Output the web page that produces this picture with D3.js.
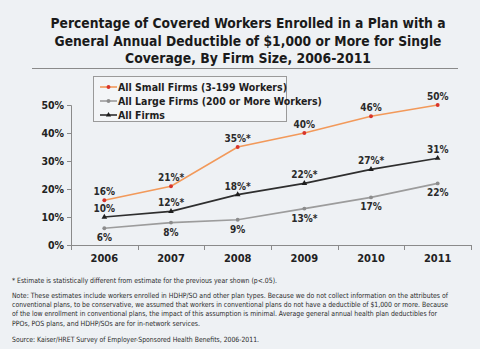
<!DOCTYPE html>
<html>
<head>
<meta charset="utf-8">
<script src="https://cdn.jsdelivr.net/npm/d3@7/dist/d3.min.js"></script>
<style>
  html, body { margin: 0; padding: 0; background: #eef1f4; }
  svg { display: block; }
  text { font-family: "DejaVu Sans Condensed", "DejaVu Sans", sans-serif; }
</style>
</head>
<body>
<svg id="chart" width="480" height="349"></svg>
<script>
const years = ["2006", "2007", "2008", "2009", "2010", "2011"];
const smallFirms = [16, 21, 35, 40, 46, 50];
const largeFirms = [6, 8, 9, 13, 17, 22];
const allFirms = [10, 12, 18, 22, 27, 31];
// significance flags (asterisk after the label)
const smallSig = [false, true, true, false, false, false];
const largeSig = [false, false, false, true, false, false];
const allSig = [false, true, true, true, true, false];
const yTicks = [0, 10, 20, 30, 40, 50];

const titleLines = [
  "Percentage of Covered Workers Enrolled in a Plan with a",
  "General Annual Deductible of $1,000 or More for Single",
  "Coverage, By Firm Size, 2006-2011"
];
const footnotes = [
  "* Estimate is statistically different from estimate for the previous year shown (p<.05).",
];
const noteLines = [
  "Note: These estimates include workers enrolled in HDHP/SO and other plan types.  Because we do not collect information on the attributes of",
  "conventional plans, to be conservative, we assumed that workers in conventional plans do not have a deductible of $1,000 or more.  Because",
  "of the low enrollment in conventional plans, the impact of this assumption is minimal.  Average general annual health plan deductibles for",
  "PPOs, POS plans, and HDHP/SOs are for in-network services."
];
const sourceLine = "Source: Kaiser/HRET Survey of Employer-Sponsored Health Benefits, 2006-2011.";

const svg = d3.select("#chart");

// Title
const titleWidths = [395, 387, 246];
const titleY = [28, 46, 63];
titleLines.forEach((t, i) => {
  svg.append("text")
    .attr("x", 248).attr("y", titleY[i])
    .attr("text-anchor", "middle")
    .attr("font-size", 14).attr("font-weight", "bold")
    .attr("fill", "#1a1a1a")
    .attr("textLength", titleWidths[i])
    .attr("lengthAdjust", "spacingAndGlyphs")
    .text(t);
});
svg.append("line")
  .attr("x1", 32).attr("x2", 458).attr("y1", 68.5).attr("y2", 68.5)
  .attr("stroke", "#8a8a8a").attr("stroke-width", 1);

// Scales
const x = d3.scaleBand().domain(years).range([71, 471]);
const y = d3.scaleLinear().domain([0, 50]).range([245, 105]);
const cx = d => x(d) + x.bandwidth() / 2;

// Y axis
const yAxis = d3.axisLeft(y).tickValues(yTicks).tickFormat(d => d + "%").tickSize(4).tickPadding(3);
const gy = svg.append("g").attr("transform", "translate(71,0)").call(yAxis);
gy.select(".domain").attr("stroke", "#8a8a8a");
gy.selectAll(".tick line").attr("stroke", "#8a8a8a");
gy.selectAll(".tick text").attr("font-size", 10.5).attr("font-weight", "bold").attr("fill", "#222")
  .attr("font-family", "DejaVu Sans Condensed, DejaVu Sans, sans-serif");

// X axis with ticks at band boundaries
const gx = svg.append("g").attr("transform", "translate(0,245)");
gx.append("line").attr("x1", 71).attr("x2", 471).attr("y1", 0.5).attr("y2", 0.5).attr("stroke", "#8a8a8a");
const bounds = years.map(d => x(d)).concat([x.range()[1]]);
gx.selectAll("line.tk").data(bounds).join("line")
  .attr("class", "tk")
  .attr("x1", d => Math.round(d) + 0.5).attr("x2", d => Math.round(d) + 0.5)
  .attr("y1", 0).attr("y2", 5).attr("stroke", "#8a8a8a");
gx.selectAll("text").data(years).join("text")
  .attr("x", d => cx(d)).attr("y", 17)
  .attr("text-anchor", "middle")
  .attr("font-size", 11).attr("font-weight", "bold").attr("fill", "#222")
  .text(d => d);

// Series
const series = [
  { name: "All Small Firms (3-199 Workers)", values: smallFirms, sig: smallSig, line: "#f2995a", dot: "#d8342a", marker: "circle", labelPos: "above" },
  { name: "All Large Firms (200 or More Workers)", values: largeFirms, sig: largeSig, line: "#9c9c9c", dot: "#8c8c8c", marker: "circle", labelPos: "below" },
  { name: "All Firms", values: allFirms, sig: allSig, line: "#2e2e2e", dot: "#1e1e1e", marker: "triangle", labelPos: "above" }
];

const lineGen = d3.line().x((d, i) => cx(years[i])).y(d => y(d));

series.forEach(s => {
  svg.append("path")
    .datum(s.values)
    .attr("d", lineGen)
    .attr("fill", "none")
    .attr("stroke", s.line)
    .attr("stroke-width", 1.6);
  const sym = s.marker === "triangle" ? d3.symbolTriangle : d3.symbolCircle;
  svg.selectAll(null).data(s.values).join("path")
    .attr("d", d3.symbol().type(sym).size(s.marker === "triangle" ? 14 : 12))
    .attr("transform", (d, i) => `translate(${cx(years[i])},${y(d)})`)
    .attr("fill", s.dot);
  svg.selectAll(null).data(s.values).join("text")
    .attr("x", (d, i) => cx(years[i]))
    .attr("y", d => s.labelPos === "above" ? y(d) - 5 : y(d) + 13)
    .attr("text-anchor", "middle")
    .attr("font-size", 10).attr("font-weight", "bold").attr("fill", "#2a2a2a")
    .text((d, i) => d + "%" + (s.sig[i] ? "*" : ""));
});

// Legend
const lg = svg.append("g");
lg.append("rect").attr("x", 93.5).attr("y", 76.5).attr("width", 193).attr("height", 45)
  .attr("fill", "#f3f5f7").attr("stroke", "#9a9a9a").attr("stroke-width", 1);
series.forEach((s, i) => {
  const ly = 87 + i * 14;
  lg.append("line").attr("x1", 100).attr("x2", 117).attr("y1", ly).attr("y2", ly)
    .attr("stroke", s.line).attr("stroke-width", 1.6);
  const sym = s.marker === "triangle" ? d3.symbolTriangle : d3.symbolCircle;
  lg.append("path").attr("d", d3.symbol().type(sym).size(12))
    .attr("transform", `translate(108.5,${ly})`).attr("fill", s.dot);
  lg.append("text").attr("x", 118).attr("y", ly + 4)
    .attr("font-size", 10.5).attr("font-weight", "bold").attr("fill", "#1e1e1e")
    .text(s.name);
});

// Footnotes
const fn = svg.append("g").attr("fill", "#2a2a2a").attr("font-size", 7.2);
fn.append("text").attr("x", 12).attr("y", 283).text(footnotes[0]).attr("textLength", 265).attr("lengthAdjust", "spacingAndGlyphs");
const noteWidths = [436, 436, 425, 188];
noteLines.forEach((t, i) => {
  fn.append("text").attr("x", 12).attr("y", 298 + i * 9.2)
    .attr("textLength", noteWidths[i]).attr("lengthAdjust", "spacingAndGlyphs")
    .text(t);
});
fn.append("text").attr("x", 12).attr("y", 342).attr("textLength", 247).attr("lengthAdjust", "spacingAndGlyphs").text(sourceLine);
</script>
</body>
</html>
